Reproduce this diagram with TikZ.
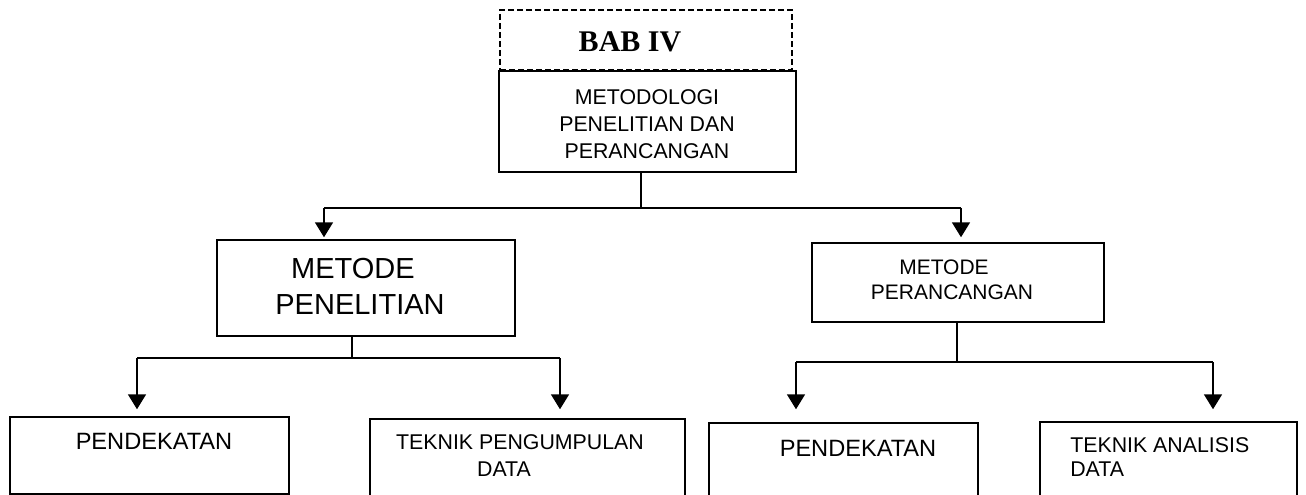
\documentclass[tikz,border=0pt]{standalone}
\usepackage{fontspec}
\setmainfont{Liberation Sans}
\newfontfamily\babfont{Liberation Serif}
\usetikzlibrary{arrows.meta}

\begin{document}
\begin{tikzpicture}[x=0.75pt,y=-0.75pt,
  box/.style={draw, line width=1.1pt, inner sep=0pt, rectangle},
  dashbox/.style={box, dash pattern=on 4.5pt off 2.25pt},
  txt/.style={inner sep=0pt, align=center},
  link/.style={line width=0.8pt},
  arr/.style={line width=1.3pt, -{Triangle[width=13.5pt,length=11.25pt]}},
  small/.style={font=\fontsize{16pt}{20.25pt}\selectfont},
]
\useasboundingbox (0,0) rectangle (1306,495);

% chapter heading and main topic
\node[box, minimum width=222.75pt, minimum height=75.75pt] (main) at (647.5,121.5) {};
\node[dashbox, minimum width=219pt, minimum height=45pt] (bab) at (646,40) {};
\node[txt, font=\babfont\bfseries\fontsize{22.5pt}{27pt}\selectfont] (babt) at (630,42) {BAB IV};
\node[txt, small] (maint) at (647,124) {METODOLOGI\\PENELITIAN DAN\\PERANCANGAN};

% second level
\node[box, minimum width=223.5pt, minimum height=72pt] (mp) at (366,288) {};
\node[txt, font=\fontsize{21.75pt}{27pt}\selectfont] (mpt) at (360,286) {\hspace*{-10.5pt}METODE\\PENELITIAN};
\node[box, minimum width=219pt, minimum height=59.25pt] (mr) at (958,282.5) {};
\node[txt, font=\fontsize{15.75pt}{18.75pt}\selectfont] (mrt) at (952,280) {\hspace*{-12pt}METODE\\PERANCANGAN};

% third level
\node[box, minimum width=209.25pt, minimum height=57.75pt] (b1) at (149.5,455.5) {};
\node[txt, font=\fontsize{17.7pt}{21pt}\selectfont] (b1t) at (154,441) {PENDEKATAN};
\node[box, minimum width=236.25pt, minimum height=60.75pt] (b2) at (527.5,459.5) {};
\node[txt, small] (b2t) at (520,455.5) {TEKNIK PENGUMPULAN\\\hspace*{-24pt}DATA};
\node[box, minimum width=201.75pt, minimum height=57.75pt] (b3) at (843.5,461.5) {};
\node[txt, font=\fontsize{17.7pt}{21pt}\selectfont] (b3t) at (858,448) {PENDEKATAN};
\node[box, minimum width=192.75pt, minimum height=58.5pt] (b4) at (1168.5,461) {};
\node[txt, align=left, anchor=west, font=\fontsize{16pt}{18pt}\selectfont] (b4t) at (1070,457) {TEKNIK ANALISIS\\DATA};

% connectors from the main topic
\coordinate (j0) at (641,208);
\coordinate (aL) at (324,208);
\coordinate (aR) at (961,208);
\draw[link] (j0 |- main.south) -- (j0);
\draw[link] (aL) -- (aR);
\draw[arr, shorten >=1.5pt] (aL) -- (aL |- mp.north);
\draw[arr, shorten >=3.75pt] (aR) -- (aR |- mr.north);

% connectors below METODE PENELITIAN
\coordinate (j1) at (352,358);
\coordinate (bL) at (137,358);
\coordinate (bR) at (560,358);
\draw[link] (j1 |- mp.south) -- (j1);
\draw[link] (bL) -- (bR);
\draw[arr, shorten >=5.25pt] (bL) -- (bL |- b1.north);
\draw[arr, shorten >=6.75pt] (bR) -- (bR |- b2.north);

% connectors below METODE PERANCANGAN
\coordinate (j2) at (957,362);
\coordinate (cL) at (796,362);
\coordinate (cR) at (1213,362);
\draw[link] (j2 |- mr.south) -- (j2);
\draw[link] (cL) -- (cR);
\draw[arr, shorten >=9.75pt] (cL) -- (cL |- b3.north);
\draw[arr, shorten >=9pt] (cR) -- (cR |- b4.north);
\end{tikzpicture}
\end{document}
